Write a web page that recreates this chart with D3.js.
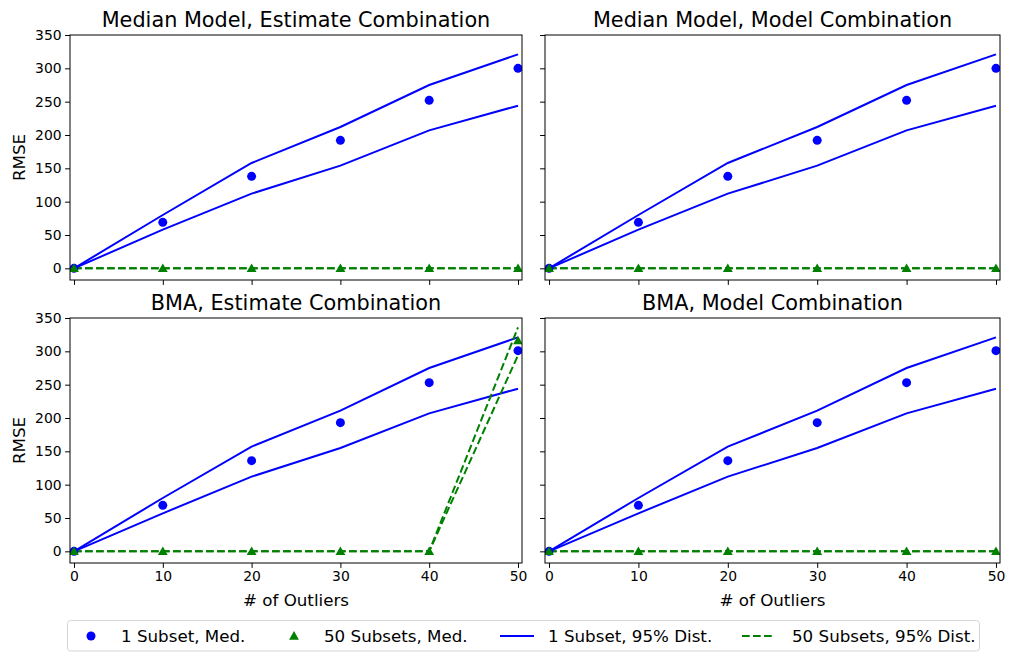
<!DOCTYPE html>
<html>
<head>
<meta charset="utf-8">
<script src="https://cdn.jsdelivr.net/npm/d3@7"></script>
<style>
  body { margin: 0; background: #fff; }
  text { font-family: "DejaVu Sans", sans-serif; fill: #000; }
</style>
</head>
<body>
<div id="chart"></div>
<script>
const outliers = [0, 10, 20, 30, 40, 50];
const yTicks = [0, 50, 100, 150, 200, 250, 300, 350];
const xTicks = [0, 10, 20, 30, 40, 50];

const titles = [
  "Median Model, Estimate Combination",
  "Median Model, Model Combination",
  "BMA, Estimate Combination",
  "BMA, Model Combination"
];

// 1 subset: median and 95% band
const oneMed = [
  [0, 69, 138, 192, 252, 300],
  [0, 69, 138, 192, 252, 300],
  [0, 69, 136, 193, 253, 301],
  [0, 69, 136, 193, 253, 301]
];
const oneHigh = [
  [0, 80, 158, 212, 275, 321],
  [0, 80, 158, 212, 275, 321],
  [0, 80, 157, 211, 275, 321],
  [0, 80, 157, 211, 275, 321]
];
const oneLow = [
  [0, 58, 112, 154, 207, 244],
  [0, 58, 112, 154, 207, 244],
  [0, 57, 112, 155, 207, 244],
  [0, 57, 112, 155, 207, 244]
];
// 50 subsets: median and 95% band
const fiftyMed = [
  [0, 0, 0, 0, 0, 0],
  [0, 0, 0, 0, 0, 0],
  [0, 0, 0, 0, 0, 316],
  [0, 0, 0, 0, 0, 0]
];
const fiftyHigh = [
  [0, 0, 0, 0, 0, 0],
  [0, 0, 0, 0, 0, 0],
  [0, 0, 0, 0, 0, 336],
  [0, 0, 0, 0, 0, 0]
];
const fiftyLow = [
  [0, 0, 0, 0, 0, 0],
  [0, 0, 0, 0, 0, 0],
  [0, 0, 0, 0, 0, 294],
  [0, 0, 0, 0, 0, 0]
];

const legendLabels = ["1 Subset, Med.", "50 Subsets, Med.", "1 Subset, 95% Dist.", "50 Subsets, 95% Dist."];

const width = 1013, height = 661;
const blue = "#0000ff", green = "#008000";

const panels = [
  { x0: 70, x1: 522, y0: 35, y1: 280, left: true, bottom: false },
  { x0: 545, x1: 1000, y0: 35, y1: 280, left: false, bottom: false },
  { x0: 70, x1: 522, y0: 318, y1: 563, left: true, bottom: true },
  { x0: 545, x1: 1000, y0: 318, y1: 563, left: false, bottom: true }
];

const svg = d3.select("#chart").append("svg")
  .attr("width", width)
  .attr("height", height);

panels.forEach((p, i) => {
  const x = d3.scaleLinear().domain([-0.45, 50.45]).range([p.x0, p.x1]);
  const y = d3.scaleLinear().domain([-17.5, 350]).range([p.y1, p.y0]);

  const g = svg.append("g");
  const clipId = "clip" + i;
  g.append("clipPath").attr("id", clipId)
    .append("rect")
    .attr("x", p.x0).attr("y", p.y0)
    .attr("width", p.x1 - p.x0).attr("height", p.y1 - p.y0);

  const plot = g.append("g").attr("clip-path", `url(#${clipId})`);

  const line = d3.line().x((d, j) => x(outliers[j])).y(d => y(d));

  [oneHigh[i], oneLow[i]].forEach(s => {
    plot.append("path").datum(s)
      .attr("d", line)
      .attr("fill", "none")
      .attr("stroke", blue)
      .attr("stroke-width", 2);
  });
  [fiftyHigh[i], fiftyLow[i]].forEach(s => {
    plot.append("path").datum(s)
      .attr("d", line)
      .attr("fill", "none")
      .attr("stroke", green)
      .attr("stroke-width", 2)
      .attr("stroke-dasharray", "7.7,3.3");
  });

  plot.selectAll(".dot").data(oneMed[i]).enter().append("circle")
    .attr("cx", (d, j) => x(outliers[j]))
    .attr("cy", d => y(d))
    .attr("r", 4.5)
    .attr("fill", blue);

  const tri = d3.symbol().type(d3.symbolTriangle).size(42);
  plot.selectAll(".tri").data(fiftyMed[i]).enter().append("path")
    .attr("d", tri)
    .attr("transform", (d, j) => `translate(${x(outliers[j])},${y(d) + 0.8})`)
    .attr("fill", green);

  // axes
  const yAxis = d3.axisLeft(y).tickValues(yTicks).tickSizeOuter(0).tickSize(4.9).tickPadding(3.5);
  if (!p.left) yAxis.tickFormat("");
  const ya = g.append("g").attr("transform", `translate(${p.x0},0)`).call(yAxis);
  ya.select(".domain").remove();

  const xAxis = d3.axisBottom(x).tickValues(xTicks).tickSizeOuter(0).tickSize(4.9).tickPadding(3.5);
  if (!p.bottom) xAxis.tickFormat("");
  const xa = g.append("g").attr("transform", `translate(0,${p.y1})`).call(xAxis);
  xa.select(".domain").remove();

  g.selectAll(".tick line").attr("stroke", "#000").attr("stroke-width", 1);
  g.selectAll(".tick text").attr("font-size", 13.9).attr("font-family", "DejaVu Sans").attr("fill", "#000");

  g.append("rect")
    .attr("x", p.x0).attr("y", p.y0)
    .attr("width", p.x1 - p.x0).attr("height", p.y1 - p.y0)
    .attr("fill", "none").attr("stroke", "#000").attr("stroke-width", 1);

  g.append("text")
    .attr("x", (p.x0 + p.x1) / 2)
    .attr("y", p.y0 - 8)
    .attr("text-anchor", "middle")
    .attr("font-size", 20.8)
    .text(titles[i]);

  if (p.left) {
    g.append("text")
      .attr("transform", `translate(25,${(p.y0 + p.y1) / 2}) rotate(-90)`)
      .attr("text-anchor", "middle")
      .attr("font-size", 16.7)
      .text("RMSE");
  }
  if (p.bottom) {
    g.append("text")
      .attr("x", (p.x0 + p.x1) / 2)
      .attr("y", 606)
      .attr("text-anchor", "middle")
      .attr("font-size", 16.7)
      .text("# of Outliers");
  }
});

// legend
const lg = svg.append("g");
lg.append("rect")
  .attr("x", 67.5).attr("y", 620.5)
  .attr("width", 912).attr("height", 30.5)
  .attr("rx", 3)
  .attr("fill", "#fff")
  .attr("stroke", "#d5d5d5");

const legendX = [91, 294, 517, 758];
const textX = [121, 324, 548, 792];
const ly = 636;

lg.append("circle").attr("cx", legendX[0]).attr("cy", ly).attr("r", 4.5).attr("fill", blue);
lg.append("path").attr("d", d3.symbol().type(d3.symbolTriangle).size(42))
  .attr("transform", `translate(${legendX[1]},${ly + 0.8})`).attr("fill", green);
lg.append("line").attr("x1", legendX[2] - 17).attr("x2", legendX[2] + 17)
  .attr("y1", ly).attr("y2", ly).attr("stroke", blue).attr("stroke-width", 2);
lg.append("line").attr("x1", legendX[3] - 16).attr("x2", legendX[3] + 17)
  .attr("y1", ly).attr("y2", ly).attr("stroke", green).attr("stroke-width", 2)
  .attr("stroke-dasharray", "7.7,3.3");

legendLabels.forEach((t, i) => {
  lg.append("text")
    .attr("x", textX[i])
    .attr("y", ly)
    .attr("dy", "0.35em")
    .attr("font-size", 16.7)
    .text(t);
});
</script>
</body>
</html>
